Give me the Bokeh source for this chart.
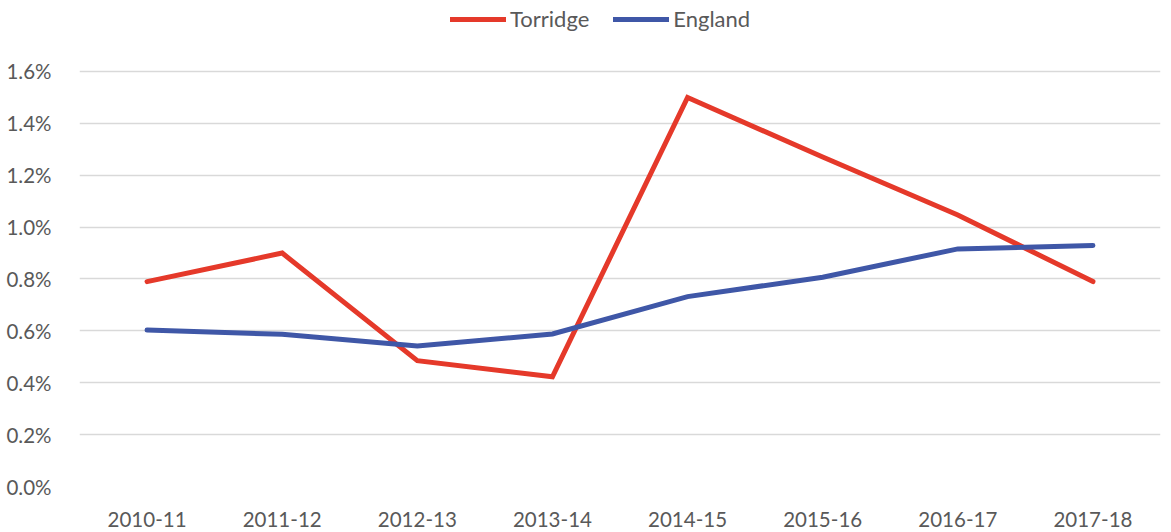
from bokeh.plotting import figure
from bokeh.models import ColumnDataSource, Legend, LegendItem, FixedTicker, NumeralTickFormatter, Range1d, FactorRange
from bokeh.embed import file_html
from bokeh.resources import INLINE

years = ["2010-11", "2011-12", "2012-13", "2013-14", "2014-15", "2015-16", "2016-17", "2017-18"]
torridge = [0.0079, 0.0090, 0.00485, 0.00423, 0.0150, 0.0127, 0.01047, 0.0079]
england = [0.00603, 0.00587, 0.00542, 0.00588, 0.00732, 0.00807, 0.00916, 0.00929]
y_ticks = [0.0, 0.002, 0.004, 0.006, 0.008, 0.010, 0.012, 0.014, 0.016]

FONT = "Lato"
TXT = "#595959"

p = figure(x_range=FactorRange(*years, range_padding=0), y_range=Range1d(0, 0.018737),
           width=1171, height=532,
           min_border_left=79, min_border_right=11, min_border_top=0, min_border_bottom=46,
           output_backend="svg", toolbar_location=None)
p.outline_line_color = None
p.background_fill_color = "white"
p.border_fill_color = "white"

src = ColumnDataSource(dict(x=years, t=torridge, e=england))
rt = p.line("x", "t", source=src, line_color="#E5392A", line_width=5, line_cap="round", line_join="miter")
re = p.line("x", "e", source=src, line_color="#3F57A7", line_width=5, line_cap="round", line_join="miter")

p.yaxis.ticker = FixedTicker(ticks=y_ticks)
p.yaxis.formatter = NumeralTickFormatter(format="0.0%")
for ax in (p.xaxis[0], p.yaxis[0]):
    ax.axis_line_color = None
    ax.major_tick_line_color = None
    ax.minor_tick_line_color = None
    ax.major_label_text_font = FONT
    ax.major_label_text_font_size = "20.5px"
    ax.major_label_text_color = TXT
p.yaxis.major_label_standoff = 22
p.xaxis.major_label_standoff = 19

p.xgrid.grid_line_color = None
p.ygrid.ticker = FixedTicker(ticks=y_ticks)
p.ygrid.grid_line_color = "#D9D9D9"
p.ygrid.grid_line_width = 1.5

legend = Legend(items=[LegendItem(label="Torridge", renderers=[rt]),
                       LegendItem(label="England", renderers=[re])],
                orientation="horizontal", location=(371, 454),
                glyph_width=56, glyph_height=20, label_standoff=4, spacing=24,
                label_text_font=FONT, label_text_font_size="22px", label_text_color=TXT,
                border_line_color=None, background_fill_alpha=0, padding=0, margin=0)
p.add_layout(legend, "center")

open("out.html", "w").write(file_html(p, INLINE))
